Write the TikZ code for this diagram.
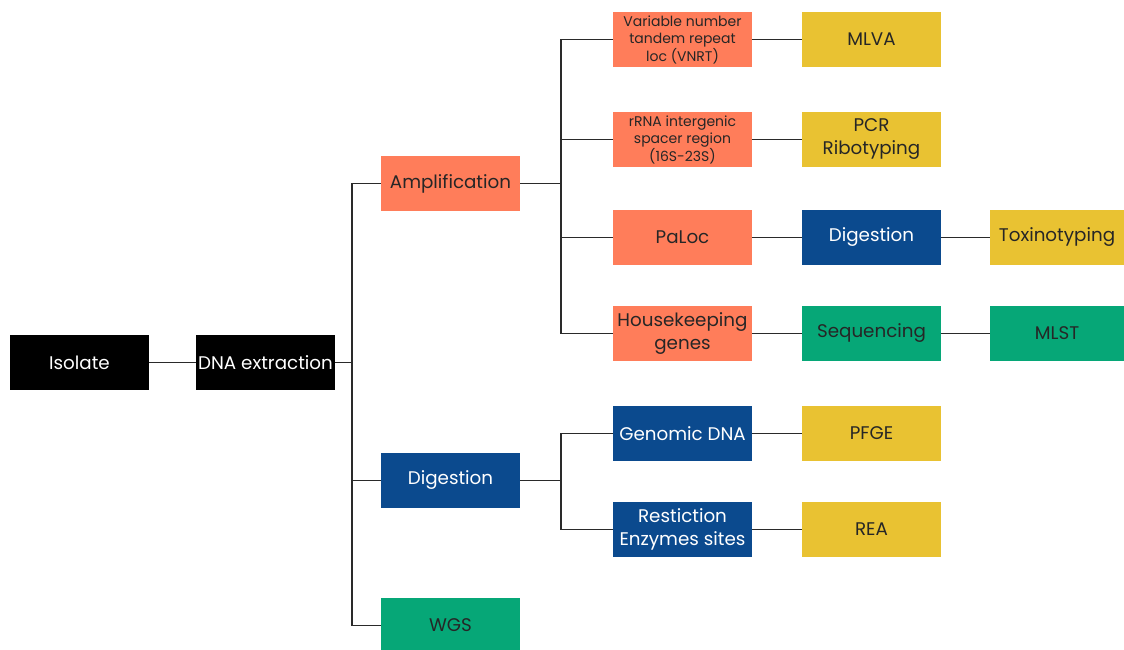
\documentclass[tikz,border=0pt]{standalone}
\usepackage{fontspec}
\setmainfont{Poppins}
\definecolor{cOrange}{HTML}{FF7D5A}
\definecolor{cBlue}{HTML}{0B4A8E}
\definecolor{cGreen}{HTML}{06A777}
\definecolor{cYellow}{HTML}{E9C232}
\definecolor{cLine}{HTML}{2A2A2A}
\begin{document}
\begin{tikzpicture}[x=1pt,y=-1pt,
  box/.style={rectangle,minimum width=139pt,minimum height=55pt,inner sep=0pt,align=center,
    font=\fontsize{18.3}{23}\selectfont},
  small/.style={font=\fontsize{14}{17.5}\selectfont},
  blk/.style={box,fill=black,text=white},
  org/.style={box,fill=cOrange,text=black!85},
  blu/.style={box,fill=cBlue,text=white},
  grn/.style={box,fill=cGreen,text=black!85},
  yel/.style={box,fill=cYellow,text=black!85},
  conn/.style={draw=cLine,line width=1.9pt}]
\useasboundingbox (0,0) rectangle (1124,650);
\node[blk] (iso) at (79.5,362.5) {Isolate};
\node[blk] (dna) at (265.5,362.5) {DNA extraction};
\node[org] (amp) at (450.5,183.5) {Amplification};
\node[blu] (dig1) at (450.5,480.5) {Digestion};
\node[grn] (wgs) at (450.5,625.5) {WGS};
\node[org,small] (vnrt) at (682.5,39.5) {Variable number\\tandem repeat\\loc (VNRT)};
\node[org,small] (rrna) at (682.5,139.5) {rRNA intergenic\\spacer region\\(16S-23S)};
\node[org] (paloc) at (682.5,237.5) {PaLoc};
\node[org] (house) at (682.5,333.5) {Housekeeping\\genes};
\node[blu] (gen) at (682.5,433.5) {Genomic DNA};
\node[blu] (res) at (682.5,529.5) {Restiction\\Enzymes sites};
\node[yel] (mlva) at (871.5,39.5) {MLVA};
\node[yel] (pcr) at (871.5,139.5) {PCR\\Ribotyping};
\node[blu] (dig2) at (871.5,237.5) {Digestion};
\node[grn] (seq) at (871.5,333.5) {Sequencing};
\node[yel] (pfge) at (871.5,433.5) {PFGE};
\node[yel] (rea) at (871.5,529.5) {REA};
\node[yel,minimum width=134pt] (tox) at (1057,237.5) {Toxinotyping};
\node[grn,minimum width=134pt] (mlst) at (1057,333.5) {MLST};
\coordinate (b1) at (352,362.5);
\coordinate (b2) at (561,183.5);
\coordinate (b3) at (561,480.5);
\draw[conn] (iso) -- (dna);
\draw[conn] (dna) -- (b1);
\draw[conn] (amp.west) -| (b1);
\draw[conn] (b1) |- (dig1.west);
\draw[conn] (b1) |- (wgs.west);
\draw[conn] (amp) -- (b2);
\draw[conn] (vnrt.west) -| (b2);
\draw[conn] (b2) |- (rrna.west);
\draw[conn] (b2) |- (paloc.west);
\draw[conn] (b2) |- (house.west);
\draw[conn] (dig1) -- (b3);
\draw[conn] (gen.west) -| (b3);
\draw[conn] (b3) |- (res.west);
\draw[conn] (vnrt) -- (mlva);
\draw[conn] (rrna) -- (pcr);
\draw[conn] (paloc) -- (dig2);
\draw[conn] (dig2) -- (tox);
\draw[conn] (house) -- (seq);
\draw[conn] (seq) -- (mlst);
\draw[conn] (gen) -- (pfge);
\draw[conn] (res) -- (rea);
\end{tikzpicture}
\end{document}
